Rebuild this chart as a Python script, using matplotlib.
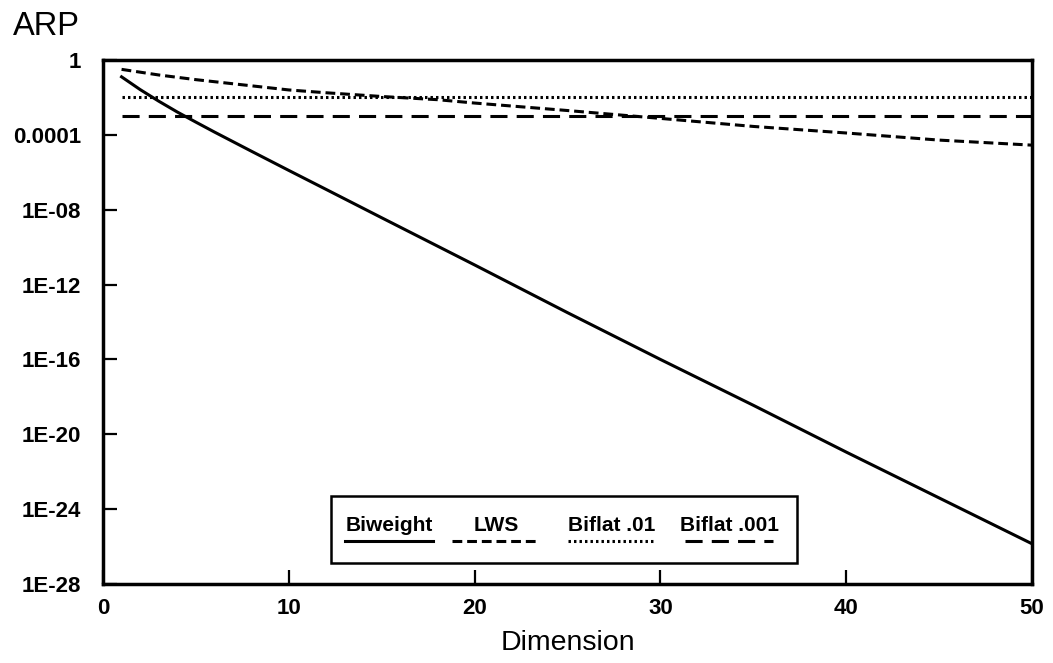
import matplotlib
matplotlib.use('Agg')
import matplotlib.pyplot as plt
import numpy as np

plt.rcParams['font.family'] = ['Liberation Sans', 'DejaVu Sans']

# Data (log10 of ARP)
bw_dim = [1, 2, 3, 4, 5, 6, 8, 10, 12, 15, 20, 25, 30, 35, 40, 45, 50]
bw_log = [-0.9, -1.58, -2.2, -2.78, -3.32, -3.85, -4.88, -5.9, -6.91, -8.43,
          -10.95, -13.5, -16.0, -18.45, -20.95, -23.4, -25.85]

lws_dim = [1, 3, 5, 8, 10, 12, 15, 18, 20, 25, 30, 35, 40, 45, 50]
lws_log = [-0.5, -0.8, -1.05, -1.38, -1.6, -1.75, -1.95, -2.12, -2.3, -2.7,
           -3.12, -3.55, -3.9, -4.28, -4.55]

flat_dim = [1, 50]
biflat01 = [0.01, 0.01]
biflat001 = [0.001, 0.001]

ytick_vals = [1, 1e-4, 1e-8, 1e-12, 1e-16, 1e-20, 1e-24, 1e-28]
ytick_labels = ['1', '0.0001', '1E-08', '1E-12', '1E-16', '1E-20', '1E-24', '1E-28']
xtick_vals = [0, 10, 20, 30, 40, 50]

labels = ['Biweight', 'LWS', 'Biflat .01', 'Biflat .001']
styles = [dict(linestyle='-'),
          dict(linestyle=(0, (3.2, 1.6))),
          dict(linestyle=(0, (0.8, 1.0))),
          dict(linestyle=(0, (5.6, 3.0)))]

fig = plt.figure(figsize=(10.53, 6.63), dpi=100)
ax = fig.add_axes([0.0978, 0.1192, 0.8822, 0.7903])

series = [(bw_dim, 10.0 ** np.array(bw_log)),
          (lws_dim, 10.0 ** np.array(lws_log)),
          (flat_dim, biflat01),
          (flat_dim, biflat001)]
for (xs, ys), st in zip(series, styles):
    ax.plot(xs, ys, color='black', linewidth=2.2, **st)

ax.set_yscale('log')
ax.set_xlim(0, 50)
ax.set_ylim(1e-28, 1)
ax.set_yticks(ytick_vals)
ax.set_yticklabels(ytick_labels)
ax.minorticks_off()
ax.set_xticks(xtick_vals)
for s in ax.spines.values():
    s.set_linewidth(2.5)
ax.tick_params(axis='both', direction='in', length=10, width=1.6, labelsize=16)
ax.tick_params(axis='y', pad=16)
ax.tick_params(axis='x', pad=10)
for t in ax.get_xticklabels() + ax.get_yticklabels():
    t.set_fontweight('bold')
ax.set_xlabel('Dimension', fontsize=20.5, labelpad=8)

fig.text(0.012, 1 - 35 / 663, 'ARP', fontsize=23.5, ha='left', va='baseline')

# Legend box: label above its line sample
box = plt.Rectangle((0.245, 0.040), 0.502, 0.128, transform=ax.transAxes,
                    fill=True, facecolor='white', edgecolor='black', linewidth=1.8, zorder=5)
ax.add_patch(box)
centers = [0.308, 0.423, 0.548, 0.674]
half = 0.047
for c, lab, st in zip(centers, labels, styles):
    ax.text(c, 0.112, lab, transform=ax.transAxes, ha='center', va='center',
            fontsize=15, fontweight='bold', zorder=6)
    ax.plot([c - half, c + half], [0.082, 0.082], transform=ax.transAxes,
            color='black', linewidth=2.2, zorder=6, **st)

plt.savefig('out.png', dpi=100)
